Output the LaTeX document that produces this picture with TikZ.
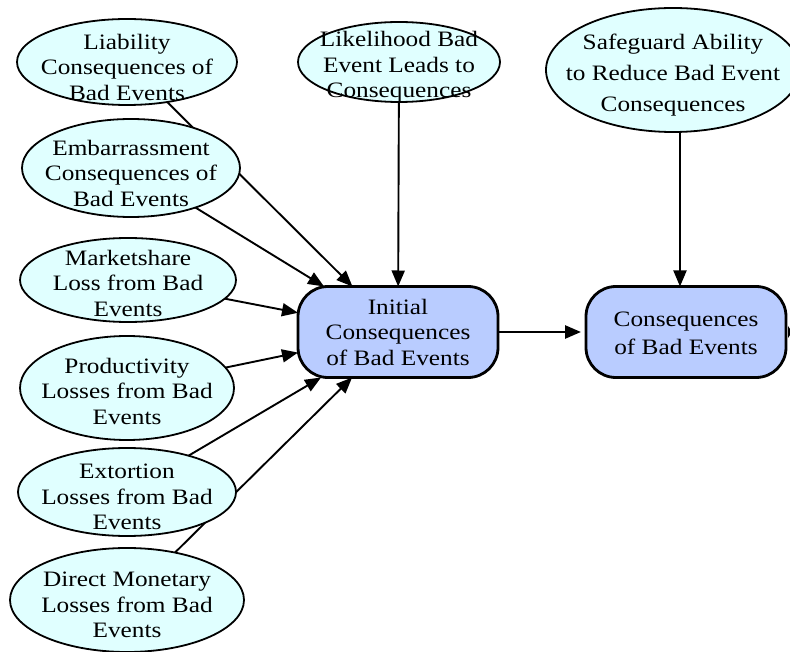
\documentclass[tikz,border=0pt]{standalone}
\usepackage{fontspec}
\setmainfont[FakeStretch=1.15]{Liberation Serif}
\usetikzlibrary{shapes.geometric,arrows.meta}
\pgfdeclarelayer{bg}
\pgfsetlayers{bg,main}
\definecolor{ovalfill}{RGB}{224,255,255}
\definecolor{boxfill}{RGB}{185,204,255}
\tikzset{
  oval/.style={ellipse, draw=black, line width=1.8pt, fill=ovalfill, inner sep=0pt, outer sep=0pt},
  lbl/.style={align=center, font=\fontsize{22}{25.5}\selectfont, inner sep=0pt},
  valbox/.style={rectangle, rounded corners=30pt, draw=black, line width=2.8pt, fill=boxfill,
    minimum width=200pt, minimum height=91pt, inner sep=0pt, outer sep=0pt},
  link/.style={line width=1.9pt, -{Triangle[length=16pt,width=13pt]}},
}
\begin{document}
\begin{tikzpicture}[x=1pt,y=-1pt]
\useasboundingbox (0,0) rectangle (790,652);

% input ovals on the left
\node[oval, minimum width=220pt, minimum height=86pt] (lia) at (127,62) {};
\node[oval, minimum width=218pt, minimum height=98pt] (emb) at (131,168) {};
\node[oval, minimum width=216pt, minimum height=84pt] (mkt) at (128,280) {};
\node[oval, minimum width=214pt, minimum height=104pt] (prd) at (127,388) {};
\node[oval, minimum width=218pt, minimum height=88pt] (ext) at (127,492) {};
\node[oval, minimum width=234pt, minimum height=104pt] (dir) at (127,600) {};

% top ovals
\node[oval, minimum width=202pt, minimum height=80pt] (lik) at (399,62) {};
\node[oval, minimum width=254pt, minimum height=124pt] (sg) at (673,70) {};

% value boxes
\node[valbox] (init) at (398,332) {};
\node[valbox] (cons) at (686,332) {};

% labels
\node[lbl] (lia-t) at ([yshift=-5pt]lia) {Liability\\Consequences of\\Bad Events};
\node[lbl] (emb-t) at ([yshift=-5pt]emb) {Embarrassment\\Consequences of\\Bad Events};
\node[lbl] (mkt-t) at ([yshift=-3pt]mkt) {Marketshare\\Loss from Bad\\Events};
\node[lbl] (prd-t) at ([yshift=-3pt]prd) {Productivity\\Losses from Bad\\Events};
\node[lbl] (ext-t) at ([yshift=-5pt]ext) {Extortion\\Losses from Bad\\Events};
\node[lbl] (dir-t) at ([yshift=-5pt]dir) {Direct Monetary\\Losses from Bad\\Events};
\node[lbl] (lik-t) at ([yshift=-5pt]lik) {Likelihood Bad\\Event Leads to\\Consequences};
\node[lbl, font=\fontsize{22}{31}\selectfont] (sg-t) at ([yshift=-5pt]sg) {Safeguard Ability\\to Reduce Bad Event\\Consequences};
\node[lbl] (init-t) at (init) {Initial\\Consequences\\of Bad Events};
\node[lbl, font=\fontsize{22}{28}\selectfont] (cons-t) at ([yshift=-1pt]cons) {Consequences\\of Bad Events};

% influence arrows, kept beneath the ovals
\begin{pgfonlayer}{bg}
\foreach \src in {lia,emb,mkt,prd,ext,dir,lik}
  \draw[link] (\src) -- (init);
\draw[link] ([xshift=7pt]sg.south) -- ([xshift=7pt]sg.south |- cons.north);
\draw[link, line width=2.6pt, shorten >=5pt] (init) -- (cons);
\end{pgfonlayer}

% outgoing stub on the right of the final box
\coordinate (stub) at ([xshift=2pt]cons.east);
\fill (stub) ++(0,-6) -- ++(4,6) -- ++(-4,6) -- cycle;
\end{tikzpicture}
\end{document}
